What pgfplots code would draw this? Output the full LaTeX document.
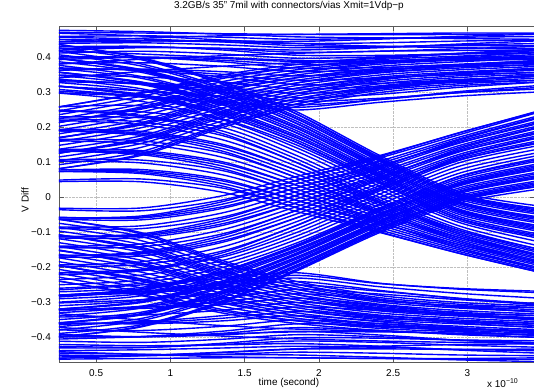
\documentclass[border=0pt]{standalone}
\usepackage{pgfplots}
\pgfplotsset{compat=1.18}
\usepackage{pgfplotstable}
\usepackage{fontspec}
\setmainfont{Liberation Sans}

% high steady level
\pgfplotstableread{
x h1 h2 h3 h4 h5 h6 h7 h8 h9 h10 h11 h12 h13 h14 h15 h16 h17 h18
0.2  0.472 0.460 0.452 0.440 0.425 0.412 0.398 0.382 0.368 0.350 0.335 0.318 0.305 0.445 0.470 0.420 0.380 0.340
0.8  0.470 0.462 0.448 0.442 0.430 0.418 0.400 0.385 0.365 0.345 0.325 0.305 0.290 0.455 0.462 0.410 0.395 0.360
1.35 0.468 0.458 0.445 0.436 0.425 0.410 0.392 0.375 0.352 0.330 0.308 0.288 0.270 0.462 0.450 0.400 0.405 0.375
1.85 0.466 0.452 0.440 0.428 0.415 0.398 0.380 0.360 0.335 0.310 0.285 0.265 0.250 0.466 0.440 0.392 0.412 0.385
2.41 0.465 0.455 0.442 0.430 0.418 0.402 0.385 0.366 0.342 0.318 0.295 0.280 0.272 0.468 0.432 0.390 0.418 0.390
2.95 0.466 0.458 0.447 0.436 0.425 0.412 0.396 0.378 0.356 0.335 0.315 0.300 0.290 0.470 0.428 0.392 0.420 0.395
3.5  0.468 0.460 0.450 0.440 0.432 0.420 0.405 0.388 0.368 0.350 0.330 0.315 0.302 0.470 0.425 0.395 0.422 0.398
}\tabH
\pgfplotstableread{
x g1 g2 g3 g4 g5 g6 g7 g8 g9 g10 g11 g12
0.2  0.478 0.444 0.458 0.4205 0.4305 0.393 0.402 0.363 0.371 0.3305 0.3385 0.2995
0.8  0.474 0.447 0.453 0.428 0.432 0.401 0.4005 0.367 0.363 0.327 0.323 0.2895
1.35 0.467 0.4475 0.4445 0.4265 0.4215 0.397 0.3875 0.3595 0.345 0.315 0.302 0.275
1.85 0.459 0.446 0.434 0.4215 0.4065 0.389 0.370 0.3475 0.3225 0.2975 0.275 0.2575
2.41 0.456 0.4525 0.432 0.428 0.406 0.3975 0.3715 0.358 0.326 0.3105 0.2835 0.280
2.95 0.454 0.4605 0.4335 0.4385 0.4105 0.412 0.379 0.375 0.3375 0.333 0.2995 0.303
3.5  0.452 0.467 0.433 0.448 0.414 0.4245 0.3845 0.390 0.347 0.352 0.3105 0.3205
}\tabHm
% low steady level
\pgfplotstableread{
x l1 l2 l3 l4 l5 l6 l7 l8 l9 l10 l11 l12 l13 l14 l15 l16 l17 l18
0.2  -0.462 -0.450 -0.438 -0.425 -0.410 -0.395 -0.378 -0.360 -0.342 -0.322 -0.302 -0.282 -0.265 -0.440 -0.460 -0.405 -0.370 -0.330
0.8  -0.460 -0.452 -0.435 -0.428 -0.414 -0.398 -0.380 -0.358 -0.336 -0.314 -0.292 -0.270 -0.250 -0.448 -0.452 -0.398 -0.385 -0.350
1.35 -0.458 -0.448 -0.430 -0.420 -0.405 -0.388 -0.368 -0.345 -0.322 -0.298 -0.272 -0.250 -0.230 -0.455 -0.442 -0.390 -0.396 -0.366
1.85 -0.458 -0.442 -0.425 -0.410 -0.392 -0.372 -0.350 -0.326 -0.300 -0.275 -0.250 -0.230 -0.215 -0.458 -0.432 -0.384 -0.404 -0.376
2.41 -0.460 -0.445 -0.428 -0.414 -0.398 -0.380 -0.360 -0.338 -0.315 -0.292 -0.268 -0.255 -0.245 -0.460 -0.425 -0.384 -0.410 -0.382
2.95 -0.462 -0.450 -0.434 -0.422 -0.408 -0.392 -0.374 -0.354 -0.334 -0.312 -0.288 -0.274 -0.262 -0.460 -0.420 -0.388 -0.414 -0.388
3.5  -0.462 -0.452 -0.438 -0.428 -0.415 -0.400 -0.385 -0.366 -0.348 -0.328 -0.304 -0.288 -0.272 -0.458 -0.418 -0.392 -0.416 -0.392
}\tabL
\pgfplotstableread{
x k1 k2 k3 k4 k5 k6 k7 k8 k9 k10 k11 k12
0.2  -0.444 -0.456 -0.4195 -0.4295 -0.3905 -0.3985 -0.357 -0.363 -0.320 -0.324 -0.280 -0.2855
0.8  -0.448 -0.4515 -0.4235 -0.429 -0.398 -0.397 -0.361 -0.355 -0.317 -0.311 -0.273 -0.268
1.35 -0.449 -0.443 -0.421 -0.4165 -0.3925 -0.382 -0.3525 -0.3375 -0.306 -0.289 -0.257 -0.244
1.85 -0.450 -0.4335 -0.4175 -0.401 -0.382 -0.361 -0.338 -0.313 -0.2875 -0.2625 -0.240 -0.2225
2.41 -0.4565 -0.4325 -0.425 -0.402 -0.393 -0.366 -0.353 -0.3225 -0.3075 -0.276 -0.2655 -0.246
2.95 -0.464 -0.434 -0.436 -0.407 -0.408 -0.375 -0.372 -0.336 -0.331 -0.292 -0.289 -0.260
3.5  -0.469 -0.433 -0.445 -0.4095 -0.4195 -0.3805 -0.3875 -0.345 -0.350 -0.304 -0.308 -0.268
}\tabLm
% falling from high
\pgfplotstableread{
x a0 a1 a2 a3 a4 a5 a6 a7
0.2   0.300  0.320  0.340  0.360  0.380  0.400  0.420  0.440
0.8   0.275  0.293  0.311  0.329  0.346  0.364  0.382  0.400
1.35  0.225  0.240  0.255  0.270  0.285  0.300  0.315  0.330
1.85  0.150  0.164  0.177  0.191  0.204  0.218  0.231  0.245
2.41  0.040  0.051  0.063  0.074  0.086  0.097  0.109  0.120
2.95 -0.060 -0.049 -0.039 -0.028 -0.017 -0.006  0.004  0.015
3.5  -0.110 -0.098 -0.086 -0.074 -0.061 -0.049 -0.037 -0.025
}\tabAa
\pgfplotstableread{
x a1 a2 a3 a4 a5 a6 a7
0.2   0.320  0.320  0.360  0.360  0.400  0.400  0.440
0.8   0.291  0.295  0.327  0.3305 0.362  0.366  0.398
1.35  0.2355 0.2445 0.2655 0.2745 0.2955 0.3045 0.3255
1.85  0.157  0.1705 0.184  0.1975 0.211  0.2245 0.238
2.41  0.0425 0.060  0.0655 0.083  0.0885 0.106  0.1115
2.95 -0.0615 -0.037 -0.0405 -0.0155 -0.0185 0.006 0.0025
3.5  -0.114 -0.082 -0.090 -0.0575 -0.065 -0.033 -0.041
}\tabAam
\pgfplotstableread{
x a1 a2 a3 a4 a5 a6 a7
0.2   0.310  0.330  0.350  0.370  0.390  0.410  0.430
0.8   0.287  0.305  0.323  0.341  0.358  0.376  0.394
1.35  0.235  0.250  0.265  0.280  0.295  0.310  0.325
1.85  0.158  0.172  0.185  0.199  0.212  0.226  0.239
2.41  0.046  0.057  0.069  0.080  0.092  0.103  0.115
2.95 -0.055 -0.044 -0.034 -0.023 -0.012 -0.001  0.009
3.5  -0.106 -0.094 -0.082 -0.070 -0.057 -0.045 -0.033
}\tabAaq
% falling, between the two falling bundles
\pgfplotstableread{
x e1 e2 e3
0.2   0.230  0.245  0.258
0.8   0.228  0.245  0.262
1.35  0.200  0.212  0.222
1.85  0.120  0.132  0.142
2.41  0.010  0.022  0.032
2.95 -0.082 -0.072 -0.066
3.5  -0.140 -0.128 -0.118
}\tabE
% falling from mid-high
\pgfplotstableread{
x a0 a1 a2 a3 a4 a5 a6 a7
0.2   0.045  0.074  0.104  0.133  0.162  0.191  0.221  0.250
0.8   0.045  0.072  0.099  0.126  0.154  0.181  0.208  0.235
1.35  0.015  0.040  0.065  0.090  0.115  0.140  0.165  0.190
1.85 -0.040 -0.019  0.003  0.024  0.046  0.067  0.089  0.110
2.41 -0.100 -0.086 -0.071 -0.057 -0.043 -0.029 -0.014  0.000
2.95 -0.160 -0.150 -0.140 -0.130 -0.120 -0.110 -0.100 -0.090
3.5  -0.215 -0.206 -0.196 -0.187 -0.178 -0.169 -0.159 -0.150
}\tabAb
\pgfplotstableread{
x a1 a2 a3 a4 a5 a6 a7
0.2   0.0745 0.074  0.1335 0.1325 0.1915 0.191  0.2505
0.8   0.0685 0.0755 0.1225 0.130  0.1775 0.1845 0.2315
1.35  0.0325 0.0475 0.0825 0.0975 0.1325 0.1475 0.1825
1.85 -0.0295 -0.008 0.0135 0.035  0.0565 0.078  0.0995
2.41 -0.098 -0.0735 -0.069 -0.045 -0.041 -0.0165 -0.012
2.95 -0.160 -0.135 -0.145 -0.115 -0.125 -0.095 -0.105
3.5  -0.215 -0.186 -0.2065 -0.1675 -0.1885 -0.149 -0.1695
}\tabAbm
\pgfplotstableread{
x a1 a2 a3 a4 a5 a6 a7
0.2   0.049  0.078  0.108  0.137  0.166  0.195  0.225
0.8   0.053  0.080  0.107  0.134  0.162  0.189  0.216
1.35  0.027  0.052  0.077  0.102  0.127  0.152  0.177
1.85 -0.029 -0.008  0.014  0.035  0.057  0.078  0.100
2.41 -0.093 -0.079 -0.064 -0.050 -0.036 -0.022 -0.007
2.95 -0.155 -0.145 -0.135 -0.125 -0.115 -0.105 -0.095
3.5  -0.211 -0.202 -0.192 -0.183 -0.174 -0.165 -0.155
}\tabAbq
% rising from low
\pgfplotstableread{
x b0 b1 b2 b3 b4 b5 b6 b7
0.2  -0.400 -0.380 -0.360 -0.340 -0.320 -0.300 -0.280 -0.260
0.8  -0.370 -0.352 -0.334 -0.316 -0.299 -0.281 -0.263 -0.245
1.35 -0.300 -0.286 -0.271 -0.257 -0.243 -0.229 -0.214 -0.200
1.85 -0.210 -0.199 -0.187 -0.176 -0.164 -0.153 -0.141 -0.130
2.41 -0.100 -0.090 -0.080 -0.070 -0.060 -0.050 -0.040 -0.030
2.95 -0.015 -0.004  0.006  0.017  0.028  0.039  0.049  0.060
3.5   0.025  0.037  0.049  0.061  0.074  0.086  0.098  0.110
}\tabBa
\pgfplotstableread{
x b1 b2 b3 b4 b5 b6 b7
0.2  -0.400 -0.360 -0.360 -0.320 -0.320 -0.280 -0.280
0.8  -0.368 -0.336 -0.332 -0.3005 -0.297 -0.265 -0.261
1.35 -0.296 -0.2755 -0.267 -0.247 -0.239 -0.2185 -0.210
1.85 -0.2045 -0.193 -0.1815 -0.170 -0.1585 -0.147 -0.1355
2.41 -0.092 -0.088 -0.072 -0.068 -0.052 -0.048 -0.032
2.95 -0.0025 -0.006 0.0185 0.0155 0.0405 0.037 0.0615
3.5   0.041  0.033  0.065  0.0575 0.090  0.082  0.114
}\tabBam
\pgfplotstableread{
x b1 b2 b3 b4 b5 b6 b7
0.2  -0.390 -0.370 -0.350 -0.330 -0.310 -0.290 -0.270
0.8  -0.364 -0.346 -0.328 -0.311 -0.293 -0.275 -0.257
1.35 -0.296 -0.281 -0.267 -0.253 -0.239 -0.224 -0.210
1.85 -0.207 -0.195 -0.184 -0.172 -0.161 -0.149 -0.138
2.41 -0.096 -0.086 -0.076 -0.066 -0.056 -0.046 -0.036
2.95 -0.009  0.001  0.012  0.023  0.034  0.044  0.055
3.5   0.033  0.045  0.057  0.070  0.082  0.094  0.106
}\tabBaq
% rising, between the two rising bundles
\pgfplotstableread{
x f1 f2 f3
0.2  -0.215 -0.235 -0.250
0.8  -0.205 -0.222 -0.236
1.35 -0.170 -0.180 -0.190
1.85 -0.100 -0.110 -0.120
2.41  0.000 -0.010 -0.020
2.95  0.090  0.080  0.070
3.5   0.140  0.130  0.122
}\tabF
% rising from mid-low
\pgfplotstableread{
x b0 b1 b2 b3 b4 b5 b6 b7
0.2  -0.220 -0.193 -0.166 -0.139 -0.111 -0.084 -0.057 -0.030
0.8  -0.210 -0.184 -0.159 -0.133 -0.107 -0.081 -0.056 -0.030
1.35 -0.165 -0.141 -0.116 -0.092 -0.068 -0.044 -0.019  0.005
1.85 -0.090 -0.069 -0.047 -0.026 -0.004  0.017  0.039  0.060
2.41  0.010  0.026  0.041  0.057  0.073  0.089  0.104  0.120
2.95  0.100  0.112  0.124  0.136  0.149  0.161  0.173  0.185
3.5   0.150  0.164  0.179  0.193  0.207  0.221  0.236  0.250
}\tabBb
\pgfplotstableread{
x b1 b2 b3 b4 b5 b6 b7
0.2  -0.2215 -0.1645 -0.1675 -0.110 -0.1125 -0.0555 -0.0585
0.8  -0.207 -0.1615 -0.156 -0.110 -0.104 -0.0585 -0.053
1.35 -0.158 -0.1235 -0.109 -0.075 -0.061 -0.0265 -0.012
1.85 -0.0795 -0.058 -0.0365 -0.015 0.0065 0.028 0.0495
2.41  0.023  0.0285 0.054  0.060  0.086  0.0915 0.117
2.95  0.116  0.108  0.140  0.1325 0.165  0.157  0.186
3.5   0.172  0.1565 0.201  0.185  0.229  0.2135 0.248
}\tabBbm
\pgfplotstableread{
x b1 b2 b3 b4 b5 b6 b7
0.2  -0.197 -0.170 -0.143 -0.115 -0.088 -0.061 -0.034
0.8  -0.192 -0.167 -0.141 -0.115 -0.089 -0.064 -0.038
1.35 -0.153 -0.128 -0.104 -0.080 -0.056 -0.031 -0.007
1.85 -0.080 -0.058 -0.037 -0.015  0.006  0.028  0.049
2.41  0.019  0.034  0.050  0.066  0.082  0.097  0.113
2.95  0.107  0.119  0.131  0.144  0.156  0.168  0.180
3.5   0.160  0.175  0.189  0.203  0.217  0.232  0.246
}\tabBbq
% rising mid-high to high
\pgfplotstableread{
x c0 c1 c2 c3 c4 c5 c6 c7 c8
0.2  0.080 0.102 0.124 0.146 0.168 0.189 0.211 0.233 0.255
0.8  0.120 0.143 0.165 0.188 0.210 0.233 0.255 0.278 0.300
1.35 0.200 0.219 0.238 0.256 0.275 0.294 0.313 0.331 0.350
1.85 0.260 0.275 0.290 0.305 0.320 0.335 0.350 0.365 0.380
2.41 0.300 0.313 0.325 0.338 0.350 0.363 0.375 0.388 0.400
2.95 0.320 0.331 0.343 0.354 0.365 0.376 0.388 0.399 0.410
3.5  0.330 0.341 0.353 0.364 0.375 0.386 0.398 0.409 0.420
}\tabC
\pgfplotstableread{
x c1 c2 c3 c4 c5 c6 c7 c8
0.2  0.079 0.125 0.123 0.169 0.1665 0.212 0.210 0.256
0.8  0.1235 0.162 0.1685 0.207 0.2135 0.252 0.2585 0.297
1.35 0.2055 0.2325 0.243 0.2695 0.2805 0.3075 0.318 0.3445
1.85 0.2675 0.2825 0.2975 0.3125 0.3275 0.3425 0.3575 0.3725
2.41 0.3105 0.315 0.3355 0.340 0.3605 0.365 0.3855 0.390
2.95 0.3335 0.329 0.3565 0.3515 0.3785 0.374 0.4015 0.3965
3.5  0.3475 0.335 0.3705 0.3575 0.3925 0.380 0.4155 0.4025
}\tabCm
\pgfplotstableread{
x c1 c2 c3 c4 c5 c6 c7 c8
0.2  0.091 0.113 0.135 0.157 0.179 0.200 0.222 0.244
0.8  0.131 0.154 0.176 0.199 0.221 0.244 0.266 0.289
1.35 0.209 0.228 0.247 0.265 0.284 0.303 0.322 0.340
1.85 0.267 0.282 0.297 0.312 0.327 0.342 0.357 0.372
2.41 0.306 0.319 0.331 0.344 0.356 0.369 0.381 0.394
2.95 0.325 0.336 0.348 0.359 0.370 0.381 0.393 0.404
3.5  0.335 0.346 0.358 0.369 0.380 0.391 0.403 0.414
}\tabCq
% falling mid-low to low
\pgfplotstableread{
x d0 d1 d2 d3 d4 d5 d6 d7 d8
0.2  -0.060 -0.082 -0.104 -0.126 -0.148 -0.169 -0.191 -0.213 -0.235
0.8  -0.100 -0.123 -0.145 -0.168 -0.190 -0.213 -0.235 -0.258 -0.280
1.35 -0.180 -0.199 -0.218 -0.236 -0.255 -0.274 -0.293 -0.311 -0.330
1.85 -0.240 -0.255 -0.270 -0.285 -0.300 -0.315 -0.330 -0.345 -0.360
2.41 -0.280 -0.293 -0.305 -0.318 -0.330 -0.343 -0.355 -0.368 -0.380
2.95 -0.300 -0.311 -0.323 -0.334 -0.345 -0.356 -0.368 -0.379 -0.390
3.5  -0.310 -0.321 -0.333 -0.344 -0.355 -0.366 -0.378 -0.389 -0.400
}\tabD
\pgfplotstableread{
x d1 d2 d3 d4 d5 d6 d7 d8
0.2  -0.059 -0.105 -0.103 -0.149 -0.1465 -0.192 -0.190 -0.236
0.8  -0.1035 -0.142 -0.1485 -0.187 -0.1935 -0.232 -0.2385 -0.277
1.35 -0.1855 -0.2125 -0.223 -0.2495 -0.2605 -0.2875 -0.298 -0.3245
1.85 -0.2475 -0.2625 -0.2775 -0.2925 -0.3075 -0.3225 -0.3375 -0.3525
2.41 -0.2905 -0.295 -0.3155 -0.320 -0.3405 -0.345 -0.3655 -0.370
2.95 -0.3135 -0.309 -0.3365 -0.3315 -0.3585 -0.354 -0.3815 -0.3765
3.5  -0.3275 -0.315 -0.3505 -0.3375 -0.3725 -0.360 -0.3955 -0.3825
}\tabDm
\pgfplotstableread{
x d1 d2 d3 d4 d5 d6 d7 d8
0.2  -0.071 -0.093 -0.115 -0.137 -0.159 -0.180 -0.202 -0.224
0.8  -0.111 -0.134 -0.156 -0.179 -0.201 -0.224 -0.246 -0.269
1.35 -0.189 -0.208 -0.227 -0.245 -0.264 -0.283 -0.302 -0.320
1.85 -0.247 -0.262 -0.277 -0.292 -0.307 -0.322 -0.337 -0.352
2.41 -0.286 -0.299 -0.311 -0.324 -0.336 -0.349 -0.361 -0.374
2.95 -0.305 -0.316 -0.328 -0.339 -0.350 -0.361 -0.373 -0.384
3.5  -0.315 -0.326 -0.338 -0.349 -0.360 -0.371 -0.383 -0.394
}\tabDq

\pgfplotsset{tr/.style={color={rgb,255:red,0;green,0;blue,255}, line width=1.4pt, smooth, tension=0.5, mark=none}}

\begin{document}
\begin{tikzpicture}
\begin{axis}[
  at={(0,0)}, anchor=south west, scale only axis,
  width=476bp, height=336bp,
  xmin=0.25, xmax=3.455, ymin=-0.47, ymax=0.49,
  xtick={0.5,1,1.5,2,2.5,3},
  xticklabels={0.5,1,1.5,2,2.5,3},
  ytick={-0.4,-0.3,-0.2,-0.1,0,0.1,0.2,0.3,0.4},
  yticklabels={−0.4,−0.3,−0.2,−0.1,0,0.1,0.2,0.3,0.4},
  tick align=inside, major tick length=5bp,
  grid=major, grid style={densely dotted, black!25, line width=0.4pt},
  axis line style={black!65, line width=0.6pt}, tick style={black!65, line width=0.6pt},
  tick label style={font=\fontsize{10}{12}\selectfont},
  xticklabel style={inner sep=0pt, anchor=north, yshift=-7bp},
  yticklabel style={inner sep=0pt, anchor=east, xshift=-8bp},
  title={3.2GB/s 35" 7mil with connectors/vias Xmit=1Vdp−p},
  title style={font=\fontsize{10}{12}\selectfont, at={(axis description cs:0.483,1.042)}, anchor=center, inner sep=0pt},
  xlabel={time (second)},
  xlabel style={font=\fontsize{10}{12}\selectfont, at={(axis description cs:0.483,-0.0625)}, anchor=center, inner sep=0pt},
  ylabel={V Diff},
  ylabel style={font=\fontsize{10}{12}\selectfont, at={(axis description cs:-0.0714,0.482)}, anchor=center, inner sep=0pt},
]
\pgfplotsinvokeforeach{1,...,18}{\addplot[tr] table[x index=0, y index=#1]{\tabH};}
\pgfplotsinvokeforeach{1,...,12}{\addplot[tr] table[x index=0, y index=#1]{\tabHm};}
\pgfplotsinvokeforeach{1,...,18}{\addplot[tr] table[x index=0, y index=#1]{\tabL};}
\pgfplotsinvokeforeach{1,...,12}{\addplot[tr] table[x index=0, y index=#1]{\tabLm};}
\pgfplotsinvokeforeach{1,...,9}{\addplot[tr] table[x index=0, y index=#1]{\tabC};}
\pgfplotsinvokeforeach{1,...,8}{\addplot[tr] table[x index=0, y index=#1]{\tabCm};}
\pgfplotsinvokeforeach{1,...,8}{\addplot[tr] table[x index=0, y index=#1]{\tabCq};}
\pgfplotsinvokeforeach{1,...,9}{\addplot[tr] table[x index=0, y index=#1]{\tabD};}
\pgfplotsinvokeforeach{1,...,8}{\addplot[tr] table[x index=0, y index=#1]{\tabDm};}
\pgfplotsinvokeforeach{1,...,8}{\addplot[tr] table[x index=0, y index=#1]{\tabDq};}
\pgfplotsinvokeforeach{1,...,8}{\addplot[tr] table[x index=0, y index=#1]{\tabAa};}
\pgfplotsinvokeforeach{1,...,7}{\addplot[tr] table[x index=0, y index=#1]{\tabAam};}
\pgfplotsinvokeforeach{1,...,7}{\addplot[tr] table[x index=0, y index=#1]{\tabAaq};}
\pgfplotsinvokeforeach{1,...,3}{\addplot[tr] table[x index=0, y index=#1]{\tabE};}
\pgfplotsinvokeforeach{1,...,8}{\addplot[tr] table[x index=0, y index=#1]{\tabAb};}
\pgfplotsinvokeforeach{1,...,7}{\addplot[tr] table[x index=0, y index=#1]{\tabAbm};}
\pgfplotsinvokeforeach{1,...,7}{\addplot[tr] table[x index=0, y index=#1]{\tabAbq};}
\pgfplotsinvokeforeach{1,...,8}{\addplot[tr] table[x index=0, y index=#1]{\tabBa};}
\pgfplotsinvokeforeach{1,...,7}{\addplot[tr] table[x index=0, y index=#1]{\tabBam};}
\pgfplotsinvokeforeach{1,...,7}{\addplot[tr] table[x index=0, y index=#1]{\tabBaq};}
\pgfplotsinvokeforeach{1,...,3}{\addplot[tr] table[x index=0, y index=#1]{\tabF};}
\pgfplotsinvokeforeach{1,...,8}{\addplot[tr] table[x index=0, y index=#1]{\tabBb};}
\pgfplotsinvokeforeach{1,...,7}{\addplot[tr] table[x index=0, y index=#1]{\tabBbm};}
\pgfplotsinvokeforeach{1,...,7}{\addplot[tr] table[x index=0, y index=#1]{\tabBbq};}
\end{axis}
\node[anchor=west, inner sep=0pt, font=\fontsize{10}{12}\selectfont] at (428bp,-21bp) {x 10\textsuperscript{−10}};
\pgfresetboundingbox
\useasboundingbox (-59bp,-29bp) rectangle (475bp,362bp);
\end{tikzpicture}
\end{document}
